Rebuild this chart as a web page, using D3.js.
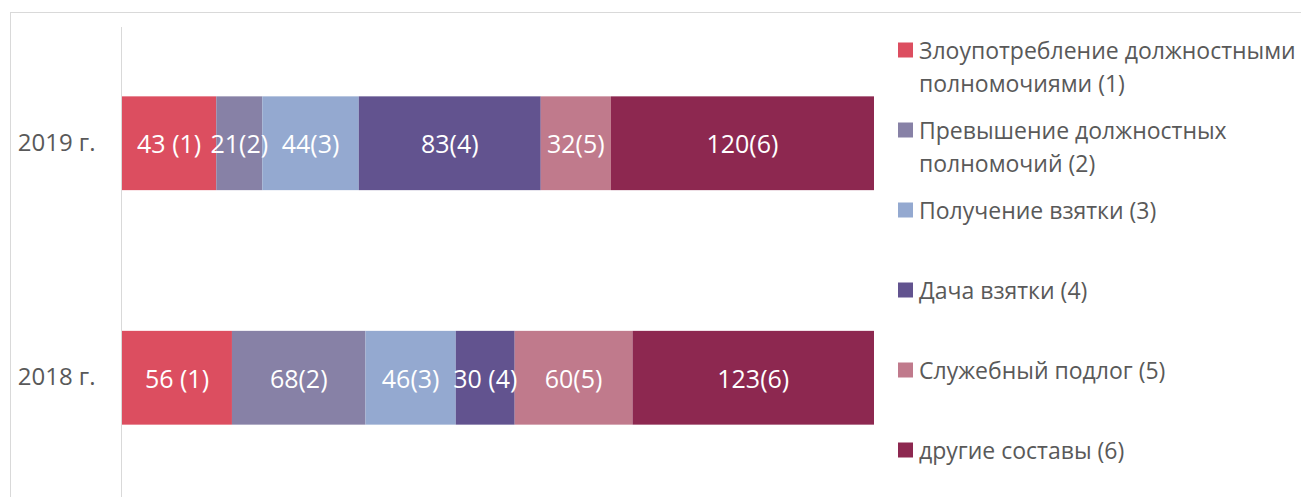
<!DOCTYPE html>
<html lang="ru">
<head>
<meta charset="UTF-8">
<title>Составы преступлений</title>
<script src="https://cdnjs.cloudflare.com/ajax/libs/d3/7.8.5/d3.min.js"></script>
<style>
  body { margin: 0; background: #fff; }
  svg text { font-family: "Open Sans", "Noto Sans", sans-serif; }
</style>
</head>
<body>
<div id="chart"></div>
<script>
// years, top to bottom
const years = ["2019 г.", "2018 г."];
const seriesNames = [
  "Злоупотребление должностными полномочиями (1)",
  "Превышение должностных полномочий (2)",
  "Получение взятки (3)",
  "Дача взятки (4)",
  "Служебный подлог (5)",
  "другие составы (6)"
];
// legend lines as they wrap in the picture
const legendLines = [
  ["Злоупотребление должностными", "полномочиями (1)"],
  ["Превышение должностных", "полномочий (2)"],
  ["Получение взятки (3)"],
  ["Дача взятки (4)"],
  ["Служебный подлог (5)"],
  ["другие составы (6)"]
];
const values2019 = [43, 21, 44, 83, 32, 120];
const values2018 = [56, 68, 46, 30, 60, 123];
const labels2019 = ["43 (1)", "21(2)", "44(3)", "83(4)", "32(5)", "120(6)"];
const labels2018 = ["56 (1)", "68(2)", "46(3)", "30 (4)", "60(5)", "123(6)"];
const colors = ["#DC4E60", "#8781A6", "#94A9D0", "#62538F", "#C07A8C", "#8D2850"];

const width = 1301, height = 497;
const svg = d3.select("#chart").append("svg")
  .attr("width", width).attr("height", height);

// chart frame
svg.append("rect")
  .attr("x", 10.5).attr("y", 12.5)
  .attr("width", width).attr("height", height)
  .attr("fill", "none").attr("stroke", "#d9d9d9");

// one row per year, keyed by series index
const rows = years.map((y, i) => {
  const vals = i === 0 ? values2019 : values2018;
  const labs = i === 0 ? labels2019 : labels2018;
  const r = { year: y, labels: labs };
  vals.forEach((v, k) => r[k] = v);
  return r;
});

const keys = seriesNames.map((d, i) => i);
const stacked = d3.stack().keys(keys).offset(d3.stackOffsetExpand)(rows);

const x = d3.scaleLinear().domain([0, 1]).range([122, 874]);
const y = d3.scaleBand().domain(years).range([26, 495])
  .paddingInner(0.6).paddingOuter(0.3);

// bars first, labels on top so long labels can spill over
const barsG = svg.append("g");
const labelsG = svg.append("g");
stacked.forEach((layer, k) => {
  barsG.append("g").selectAll("rect").data(layer).join("rect")
    .attr("x", d => x(d[0]))
    .attr("y", d => y(d.data.year))
    .attr("width", d => x(d[1]) - x(d[0]))
    .attr("height", y.bandwidth())
    .attr("fill", colors[k]);
  labelsG.append("g").selectAll("text").data(layer).join("text")
    .attr("x", d => (x(d[0]) + x(d[1])) / 2)
    .attr("y", d => y(d.data.year) + y.bandwidth() / 2)
    .attr("text-anchor", "middle")
    .attr("dominant-baseline", "central")
    .attr("fill", "#fff")
    .attr("font-size", 25)
    .text(d => d.data.labels[k]);
});

// category axis
const yAxis = svg.append("g")
  .attr("transform", "translate(121.5,0)")
  .call(d3.axisLeft(y).tickSize(0).tickPadding(26));
yAxis.select(".domain").attr("stroke", "#d9d9d9").attr("d", "M0,27V497");
yAxis.selectAll("text")
  .attr("fill", "#595959")
  .attr("font-size", 24)
  .style("font-family", '"Open Sans", "Noto Sans", sans-serif');

// legend
const legendY = d3.scaleLinear().domain([0, 5]).range([50, 450]);
const legend = svg.append("g");
legendLines.forEach((lines, i) => {
  const cy = legendY(i);
  legend.append("rect")
    .attr("x", 898).attr("y", cy - 7.5)
    .attr("width", 15).attr("height", 15)
    .attr("fill", colors[i]);
  lines.forEach((t, j) => {
    legend.append("text")
      .attr("x", 919).attr("y", cy + j * 33)
      .attr("dominant-baseline", "central")
      .attr("fill", "#595959")
      .attr("font-size", 23)
      .text(t);
  });
});
</script>
</body>
</html>
